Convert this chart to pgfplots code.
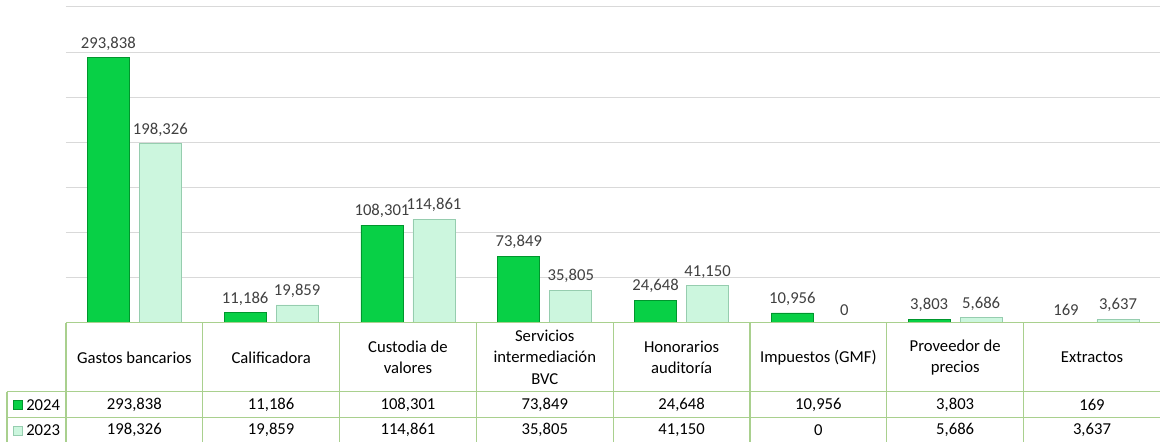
\documentclass[border=0pt]{standalone}
\usepackage{fontspec}
\setmainfont{Carlito}
\usepackage{pgfplots}
\usepackage{pgfplotstable}
\pgfplotsset{compat=1.18}
\definecolor{gA}{RGB}{8,208,70}
\definecolor{gAd}{RGB}{0,150,45}
\definecolor{gB}{RGB}{204,246,222}
\definecolor{gBd}{RGB}{150,205,175}
\definecolor{gridc}{RGB}{217,217,217}
\definecolor{tbl}{RGB}{169,208,142}
\definecolor{lbl}{RGB}{64,64,64}

\pgfplotstableread{
x v2024 v2023
0 293838 198326
1 11186 19859
2 108301 114861
3 73849 35805
4 24648 41150
5 10956 0
6 3803 5686
7 169 3637
}\data

\newcommand{\tf}{\fontsize{12.5}{16}\selectfont}

\begin{document}
\begin{tikzpicture}
\begin{scope}[x=0.75pt,y=-0.75pt]
\useasboundingbox (0,0) rectangle (1161,442);
\end{scope}
\begin{axis}[
  at={(49.5pt,-242.25pt)}, anchor=south west,
  scale only axis, width=821.25pt, height=237pt,
  xmin=-0.5, xmax=7.5, ymin=0, ymax=350000,
  ytick={0,50000,100000,150000,200000,250000,300000,350000},
  scaled y ticks=false,
  ymajorgrids, grid style={gridc, line width=0.75pt},
  xtick=\empty, yticklabels={},
  axis line style={draw=none}, major tick length=0pt,
  ybar, bar width=31.5pt, clip=false,
  nodes near coords={\pgfmathprintnumber[fixed,precision=0,1000 sep={,},assume math mode=true]{\pgfplotspointmeta}},
  every node near coord/.append style={font=\tf, text=lbl, yshift=2pt},
]
\addplot[fill=gA, draw=gAd, line width=0.6pt, bar shift=-19.5pt] table[x=x,y=v2024]{\data};
\addplot[fill=gB, draw=gBd, line width=0.6pt, bar shift=19.5pt] table[x=x,y=v2023]{\data};
\end{axis}
\begin{scope}[x=0.75pt,y=-0.75pt]
\draw[tbl, line width=0.9pt] (66,323) -- (1161,323);
\draw[tbl, line width=0.9pt] (7,392) -- (1161,392);
\draw[tbl, line width=0.9pt] (7,418) -- (1161,418);
\draw[tbl, line width=0.9pt] (7,392) -- (7,442);
\foreach \k in {0,...,7} {
  \draw[tbl, line width=0.9pt] ({66+136.875*\k},323) -- ({66+136.875*\k},442);
}
\foreach \lab [count=\i from 0] in {Gastos bancarios, Calificadora, Custodia de\\valores, Servicios\\intermediación\\BVC, Honorarios\\auditoría, Impuestos (GMF), Proveedor de\\precios, Extractos} {
  \node[align=center, font=\tf, text=black, inner sep=0pt] at ({66+136.875*(\i+0.5)},357.5) {\lab};
}
\foreach \v [count=\i from 0] in {293{,}838, 11{,}186, 108{,}301, 73{,}849, 24{,}648, 10{,}956, 3{,}803, 169} {
  \node[font=\tf, text=black, inner sep=0pt] at ({66+136.875*(\i+0.5)},405) {\v};
}
\foreach \v [count=\i from 0] in {198{,}326, 19{,}859, 114{,}861, 35{,}805, 41{,}150, 0, 5{,}686, 3{,}637} {
  \node[font=\tf, text=black, inner sep=0pt] at ({66+136.875*(\i+0.5)},430) {\v};
}
\fill[gA] (13,400) rectangle (22,409);
\draw[gAd, line width=0.4pt] (13,400) rectangle (22,409);
\fill[gB] (13,426) rectangle (22,435);
\draw[gBd, line width=0.4pt] (13,426) rectangle (22,435);
\node[font=\tf, text=black, anchor=west, inner sep=0pt] at (26,405) {2024};
\node[font=\tf, text=black, anchor=west, inner sep=0pt] at (26,430) {2023};
\end{scope}
\end{tikzpicture}
\end{document}
